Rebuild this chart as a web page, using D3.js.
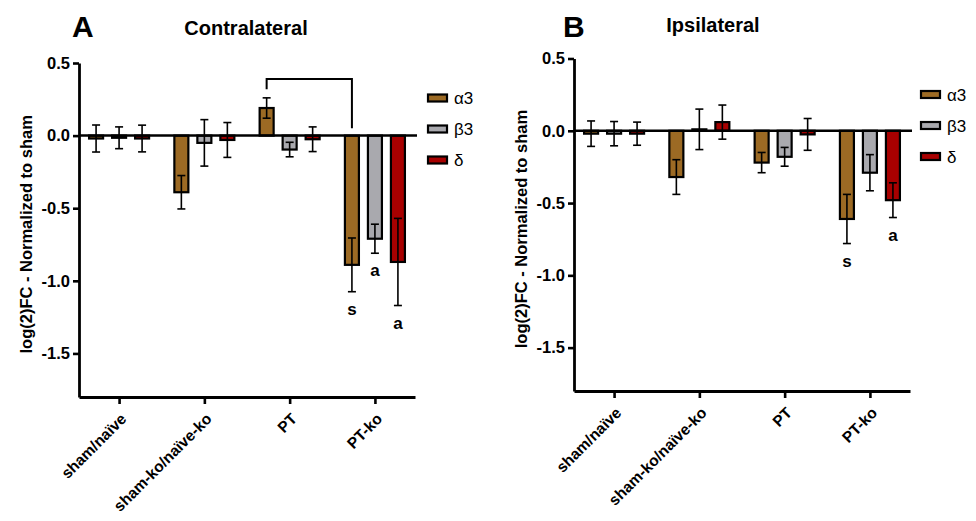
<!DOCTYPE html>
<html>
<head>
<meta charset="utf-8">
<script src="https://cdn.jsdelivr.net/npm/d3@7"></script>
<style>
  body { margin: 0; background: #fff; }
  svg { display: block; font-family: "Liberation Sans", Arial, sans-serif; }
</style>
</head>
<body>
<svg id="chart"></svg>
<script>
// DATA
const groups = ["sham/naïve", "sham-ko/naïve-ko", "PT", "PT-ko"];
const subunits = ["α3", "β3", "δ"];
const colors = ["#9c6a24", "#a9a9ae", "#a80000"];
const yTicks = [0.5, 0.0, -0.5, -1.0, -1.5];

// contralateral: mean and error per group, per subunit
const contraMean = [[-0.02, -0.015, -0.02], [-0.39, -0.05, -0.03], [0.19, -0.096, -0.025], [-0.89, -0.71, -0.87]];
const contraErr = [[0.093, 0.075, 0.092], [0.115, 0.16, 0.12], [0.07, 0.05, 0.085], [0.185, 0.1, 0.3]];
const contraSig = [["PT-ko", "α3", "s"], ["PT-ko", "β3", "a"], ["PT-ko", "δ", "a"]];
const contraBracket = [["PT", "α3", 0.32], ["PT-ko", "α3", 0.05], 0.39];

// ipsilateral
const ipsiMean = [[-0.02, -0.02, -0.02], [-0.32, 0.01, 0.06], [-0.22, -0.18, -0.025], [-0.61, -0.29, -0.48]];
const ipsiErr = [[0.088, 0.084, 0.08], [0.12, 0.14, 0.118], [0.07, 0.065, 0.11], [0.17, 0.125, 0.12]];
const ipsiSig = [["PT-ko", "α3", "s"], ["PT-ko", "δ", "a"]];

const width = 976;
const height = 521;
const svg = d3.select("#chart").attr("width", width).attr("height", height);

function panel(opt) {
  const g = svg.append("g").attr("transform", `translate(${opt.x},${opt.y})`);
  const w = 336, h = opt.h;

  const x = d3.scalePoint().domain(groups).range([0, w]).padding(0.47);
  const xs = d3.scaleBand().domain(subunits).range([-34.5, 34.5]);
  const y = d3.scaleLinear().domain([-1.8, 0.5]).range([h, 0]);
  const bw = 14;
  const cx = (gr, s) => x(gr) + xs(s) + xs.bandwidth() / 2;

  const rows = [];
  groups.forEach((gr, i) => subunits.forEach((s, j) => {
    rows.push({ gr, s, j, m: opt.mean[i][j], e: opt.err[i][j] });
  }));

  // bars
  g.selectAll("rect.bar").data(rows).enter().append("rect")
    .attr("x", d => cx(d.gr, d.s) - bw / 2)
    .attr("y", d => y(Math.max(0, d.m)))
    .attr("width", bw)
    .attr("height", d => Math.abs(y(d.m) - y(0)))
    .attr("fill", d => colors[d.j])
    .attr("stroke", "#000").attr("stroke-width", 2.2);

  // error bars
  const eb = g.selectAll("g.err").data(rows).enter().append("g")
    .attr("stroke", "#000").attr("stroke-width", 1.6);
  eb.append("line")
    .attr("x1", d => cx(d.gr, d.s)).attr("x2", d => cx(d.gr, d.s))
    .attr("y1", d => y(d.m + d.e)).attr("y2", d => y(d.m - d.e));
  [1, -1].forEach(k => eb.append("line")
    .attr("x1", d => cx(d.gr, d.s) - 4).attr("x2", d => cx(d.gr, d.s) + 4)
    .attr("y1", d => y(d.m + k * d.e)).attr("y2", d => y(d.m + k * d.e)));

  // zero line
  g.append("line").attr("x1", 0).attr("x2", w + 2)
    .attr("y1", y(0)).attr("y2", y(0))
    .attr("stroke", "#000").attr("stroke-width", 2.5);

  // axes
  const yAxis = g.append("g").call(d3.axisLeft(y).tickValues(yTicks).tickFormat(d3.format(".1f")).tickSize(6).tickSizeOuter(0));
  const xAxis = g.append("g").attr("transform", `translate(0,${h})`)
    .call(d3.axisBottom(x).tickSize(7).tickSizeOuter(0));
  [yAxis, xAxis].forEach(a => {
    a.select(".domain").attr("stroke-width", 2.8);
    a.selectAll(".tick line").attr("stroke-width", 2.6);
    a.selectAll("text").attr("font-size", 16.5).attr("font-weight", "bold")
      .attr("font-family", "Liberation Sans, Arial, sans-serif").attr("fill", "#000");
  });
  yAxis.selectAll("text").attr("x", -9).text(d => d < 0 ? "-" + d3.format(".1f")(-d) : d3.format(".1f")(d));
  xAxis.selectAll("text")
    .attr("font-size", 15.5)
    .attr("text-anchor", "end")
    .attr("transform", "translate(4,19) rotate(-45)")
    .attr("dy", "0.35em").attr("y", 0).attr("x", 0);

  // y title
  g.append("text")
    .attr("transform", `translate(${-47},${y(-0.68)}) rotate(-90)`)
    .attr("text-anchor", "middle").attr("font-size", 16.5).attr("font-weight", "bold")
    .text("log(2)FC - Normalized to sham");

  // significance letters
  opt.sig.forEach(([gr, s, t]) => {
    const i = groups.indexOf(gr), j = subunits.indexOf(s);
    g.append("text").attr("x", cx(gr, s)).attr("y", y(opt.mean[i][j] - opt.err[i][j]) + 23)
      .attr("text-anchor", "middle").attr("font-size", 17).attr("font-weight", "bold").text(t);
  });

  // bracket
  if (opt.bracket) {
    const [a, b, top] = opt.bracket;
    g.append("path")
      .attr("d", `M${cx(a[0], a[1])},${y(a[2])}V${y(top)}H${cx(b[0], b[1])}V${y(b[2])}`)
      .attr("fill", "none").attr("stroke", "#000").attr("stroke-width", 2);
  }

  // panel letter + title
  svg.append("text").attr("x", opt.letterX).attr("y", 37)
    .attr("font-size", 30).attr("font-weight", "bold").text(opt.letter);
  svg.append("text").attr("x", opt.titleX).attr("y", opt.titleY)
    .attr("text-anchor", "middle").attr("font-size", 20).attr("font-weight", "bold").text(opt.title);

  // legend
  const lg = svg.append("g").attr("transform", `translate(${opt.legX},${opt.legY})`);
  subunits.forEach((s, j) => {
    lg.append("rect").attr("x", 0).attr("y", j * 31 - 3.5).attr("width", 19).attr("height", 7)
      .attr("fill", colors[j]).attr("stroke", "#000").attr("stroke-width", 2.2);
    lg.append("text").attr("x", 26).attr("y", j * 31 + 6).attr("font-size", 17).text(s);
  });
}

panel({ x: 79, y: 63, h: 334, mean: contraMean, err: contraErr, sig: contraSig, bracket: contraBracket,
  letter: "A", letterX: 72, title: "Contralateral", titleX: 246, titleY: 35, legX: 428, legY: 98 });
panel({ x: 574, y: 58.5, h: 332.5, mean: ipsiMean, err: ipsiErr, sig: ipsiSig,
  letter: "B", letterX: 563, title: "Ipsilateral", titleX: 713, titleY: 32, legX: 921, legY: 94.5 });
</script>
</body>
</html>
